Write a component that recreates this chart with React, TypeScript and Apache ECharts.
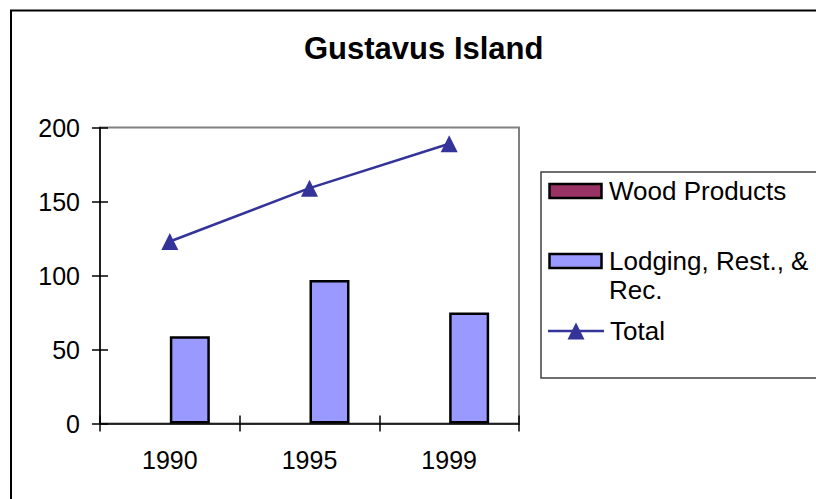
import React, { useEffect, useRef } from "react";
import * as echarts from "echarts";

const categories = ["1990", "1995", "1999"];
const woodProducts = [0, 0, 0];
const lodging = [59, 97, 75];
const total = [123, 159, 189];
const yTicks = { min: 0, max: 200, interval: 50 };

const FONT = "'Liberation Sans', Arial, sans-serif";

export default function App() {
  const ref = useRef<HTMLDivElement>(null);
  useEffect(() => {
    if (!ref.current) return;
    const chart = echarts.init(ref.current, null, { renderer: "svg" });
    const axisCommon = {
      type: "value",
      min: yTicks.min,
      max: yTicks.max,
      interval: yTicks.interval,
      position: "left",
      splitLine: { show: false },
    };
    chart.setOption({
      animation: false,
      backgroundColor: "#ffffff",
      title: {
        text: "Gustavus Island",
        left: 299,
        top: 28,
        textStyle: { fontFamily: FONT, fontSize: 31, fontWeight: "bold", color: "#000" },
      },
      grid: {
        left: 100,
        top: 127.5,
        right: 297,
        bottom: 75.5,
        show: true,
        borderColor: "#808080",
        borderWidth: 2,
        backgroundColor: "transparent",
      },
      xAxis: [
        {
          type: "category",
          data: categories,
          position: "bottom",
          axisLine: { show: true, lineStyle: { color: "#000", width: 1.5 } },
          axisTick: { show: true, length: 8, lineStyle: { color: "#000", width: 1.5 } },
          axisLabel: { fontFamily: FONT, fontSize: 25, color: "#000", margin: 24 },
        },
        {
          type: "category",
          data: categories,
          position: "bottom",
          axisLine: { show: false },
          axisTick: { show: true, inside: true, length: 8, lineStyle: { color: "#000", width: 1.5 } },
          axisLabel: { show: false },
        },
      ],
      yAxis: [
        {
          ...axisCommon,
          axisLine: { show: true, lineStyle: { color: "#000", width: 1.5 } },
          axisTick: { show: true, length: 8, lineStyle: { color: "#000", width: 1.5 } },
          axisLabel: { fontFamily: FONT, fontSize: 25, color: "#000", margin: 20 },
        },
        {
          ...axisCommon,
          axisLine: { show: false },
          axisTick: { show: true, inside: true, length: 8, lineStyle: { color: "#000", width: 1.5 } },
          axisLabel: { show: false },
        },
      ],
      series: [
        {
          name: "Wood Products",
          type: "bar",
          data: woodProducts,
          barWidth: 40,
          barGap: "0%",
          itemStyle: { color: "#993366", borderColor: "#000", borderWidth: 0 },
        },
        {
          name: "Lodging, Rest., & Rec.",
          type: "bar",
          data: lodging,
          barWidth: 40,
          barGap: "0%",
          itemStyle: { color: "#9999FF", borderColor: "#000", borderWidth: 2.5 },
        },
        {
          name: "Total",
          type: "line",
          data: total,
          z: 5,
          symbol: "triangle",
          symbolSize: 17,
          lineStyle: { color: "#333399", width: 2.5 },
          itemStyle: { color: "#333399" },
        },
      ],
      graphic: [
        {
          type: "rect",
          silent: true,
          z: 100,
          shape: { x: 11, y: 10.5, width: 900, height: 600 },
          style: { fill: "none", stroke: "#000", lineWidth: 2 },
        },
        {
          type: "rect",
          z: 100,
          shape: { x: 541, y: 172, width: 400, height: 206 },
          style: { fill: "#fff", stroke: "#404040", lineWidth: 1.5 },
        },
        {
          type: "rect",
          z: 101,
          shape: { x: 549.5, y: 184, width: 52, height: 14 },
          style: { fill: "#993366", stroke: "#000", lineWidth: 2.5 },
        },
        {
          type: "text",
          z: 101,
          x: 609,
          y: 191,
          style: {
            text: "Wood Products",
            fontFamily: FONT,
            fontSize: 26,
            fill: "#000",
            verticalAlign: "middle",
          },
        },
        {
          type: "rect",
          z: 101,
          shape: { x: 549.5, y: 254, width: 52, height: 14 },
          style: { fill: "#9999FF", stroke: "#000", lineWidth: 2.5 },
        },
        {
          type: "text",
          z: 101,
          x: 609,
          y: 246,
          style: {
            text: "Lodging, Rest., &\nRec.",
            fontFamily: FONT,
            fontSize: 26,
            lineHeight: 29,
            fill: "#000",
            verticalAlign: "top",
          },
        },
        {
          type: "line",
          z: 101,
          shape: { x1: 548, y1: 331, x2: 604, y2: 331 },
          style: { stroke: "#333399", lineWidth: 2.5 },
        },
        {
          type: "polygon",
          z: 102,
          shape: { points: [[576, 322.5], [584.5, 339.5], [567.5, 339.5]] },
          style: { fill: "#333399" },
        },
        {
          type: "text",
          z: 101,
          x: 610,
          y: 331,
          style: {
            text: "Total",
            fontFamily: FONT,
            fontSize: 26,
            fill: "#000",
            verticalAlign: "middle",
          },
        },
      ],
    });
    return () => chart.dispose();
  }, []);
  return (
    <div
      ref={ref}
      style={{ position: "absolute", left: 0, top: 0, width: 816, height: 499 }}
    />
  );
}
